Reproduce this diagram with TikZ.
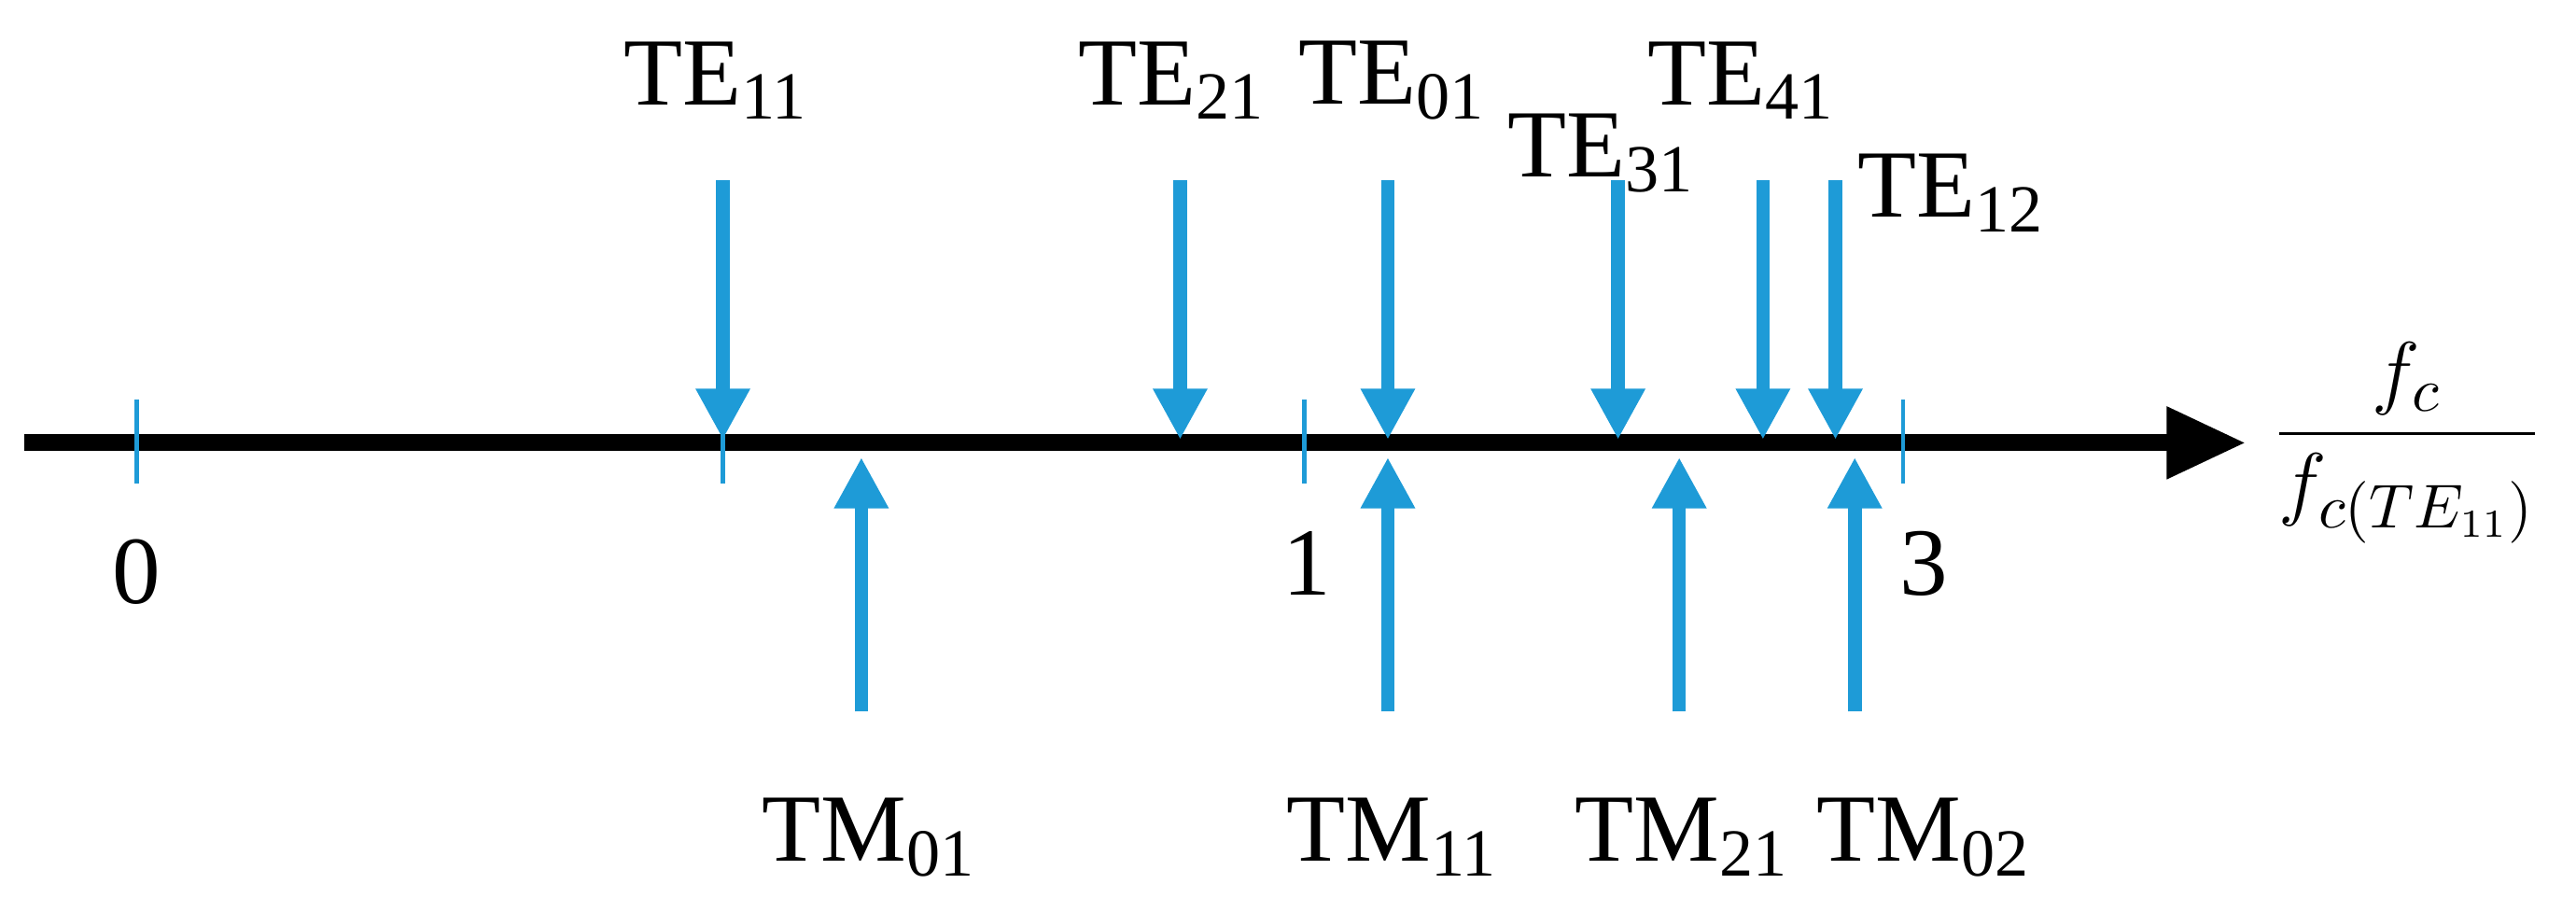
\documentclass[tikz,border=0pt]{standalone}
\usepackage{fontspec}
\setmainfont{Liberation Serif}
\usetikzlibrary{arrows.meta}
\definecolor{arr}{RGB}{30,155,215}
\begin{document}
\begin{tikzpicture}[x=0.01cm,y=-0.01cm,
  lbl/.style={font=\fontsize{17}{20}\selectfont,inner sep=0pt},
  modearrow/.style={draw=arr,line width=2.4pt,-{Triangle[length=9pt,width=9pt]}},
  tick/.style={draw=arr,line width=0.8pt}]
\useasboundingbox (0,0) rectangle (1600,566);
\coordinate (a0) at (15,275);
\coordinate (a1) at (1395,275);
\draw[line width=3pt,-{Triangle[length=14pt,width=12pt]}] (a0) -- (a1);
\foreach \x/\n in {85/t0,449/t1,810/t2,1182/t3}{
  \coordinate (\n a) at (\x,248); \coordinate (\n b) at (\x,300);
  \draw[tick] (\n a) -- (\n b);}
\node[lbl] (l0) at (85,355) {0};
\node[lbl] (l1) at (812,350) {1};
\node[lbl] (l3) at (1195,350) {3};
\node[lbl,font=\fontsize{15}{18}\selectfont] (frac) at (1495,275) {$\displaystyle\frac{f_c}{f_{c(TE_{11})}}$};
% TE arrows
\foreach \x/\lx/\ly/\t [count=\i] in {449/445/50/11,733/728/50/21,862/865/50/01,1005/995/95/31,1095/1082/50/41,1140/1212/120/12}{
  \node[lbl] (te\i) at (\lx,\ly) {TE\textsubscript{\t}};
  \coordinate (ts\i) at (\x,112); \coordinate (te\i e) at (\x,273);
  \draw[modearrow] (ts\i) -- (te\i e);}
% TM arrows
\foreach \x/\lx/\t [count=\i] in {535/540/01,862/865/11,1043/1045/21,1152/1195/02}{
  \node[lbl] (tm\i) at (\lx,520) {TM\textsubscript{\t}};
  \coordinate (ms\i) at (\x,442); \coordinate (me\i) at (\x,284);
  \draw[modearrow] (ms\i) -- (me\i);}
\end{tikzpicture}
\end{document}
